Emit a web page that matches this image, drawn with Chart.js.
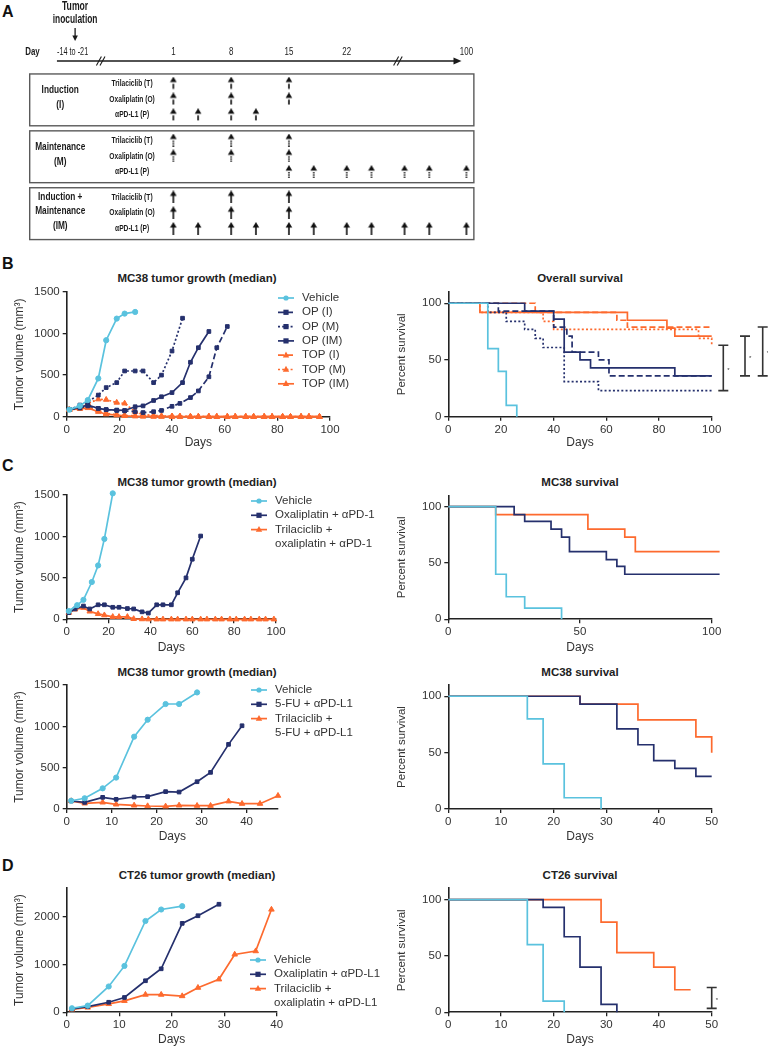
<!DOCTYPE html>
<html>
<head>
<meta charset="utf-8">
<script src="https://cdn.jsdelivr.net/npm/chart.js@4.4.1/dist/chart.umd.min.js"></script>
<style>
html, body { margin: 0; padding: 0; background: #fff; }
#page { position: relative; width: 768px; height: 1047px; overflow: hidden; font-family: 'Liberation Sans', Arial, sans-serif; }
#page canvas { position: absolute; }
.ttl { position: absolute; width: 300px; text-align: center; font-weight: bold; font-size: 11.5px; line-height: 14px; color: #222; }
.lett { position: absolute; font-weight: bold; font-size: 16px; line-height: 16px; color: #111; }
</style>
</head>
<body>
<div id="page">
	<div class="lett" style="left:2px;top:4px">A</div>
	<div class="lett" style="left:2px;top:256px">B</div>
	<div class="lett" style="left:2px;top:458px">C</div>
	<div class="lett" style="left:2px;top:858px">D</div>
	<div class="ttl" style="left:47px;top:271px">MC38 tumor growth (median)</div>
	<div class="ttl" style="left:430px;top:271px">Overall survival</div>
	<div class="ttl" style="left:47px;top:475px">MC38 tumor growth (median)</div>
	<div class="ttl" style="left:430px;top:475px">MC38 survival</div>
	<div class="ttl" style="left:47px;top:665px">MC38 tumor growth (median)</div>
	<div class="ttl" style="left:430px;top:665px">MC38 survival</div>
	<div class="ttl" style="left:47px;top:868px">CT26 tumor growth (median)</div>
	<div class="ttl" style="left:430px;top:868px">CT26 survival</div>
</div>
<script>
// ---------- panel A: dosing schedule ----------
const sched_groups = ['Induction\n(I)', 'Maintenance\n(M)', 'Induction +\nMaintenance\n(IM)']
const sched_drugs = ['Trilaciclib (T)', 'Oxaliplatin (O)', 'αPD-L1 (P)']
// dose days per drug (T, O, P); after the axis break the last slot (day 100) sits at 36.5
const dose_i = [[1, 8, 15], [1, 8, 15], [1, 4, 8, 11]]
const dose_m = [[1, 8, 15], [1, 8, 15], [15, 18, 22, 25, 29, 32, 36.5]]
const dose_im = [[1, 8, 15], [1, 8, 15], [1, 4, 8, 11, 15, 18, 22, 25, 29, 32, 36.5]]
const day_ticks = [1, 8, 15, 22, 36.5]
const day_tick_labels = ['1', '8', '15', '22', '100']

// tick values
const ticks_x100 = [0, 20, 40, 60, 80, 100]
const ticks_x100_50 = [0, 50, 100]
const ticks_x50 = [0, 10, 20, 30, 40, 50]
const ticks_x40 = [0, 10, 20, 30, 40]
const ticks_vol = [0, 500, 1000, 1500]
const ticks_vol_d = [0, 1000, 2000]
const ticks_surv = [0, 50, 100]

// ---------- panel B: MC38 growth ----------
const b_days_veh = [1, 5, 8, 12, 15, 19, 22, 26]
const b_veh = [85, 130, 200, 460, 920, 1180, 1240, 1260]
const b_days_op_i = [1, 5, 8, 12, 15, 19, 22, 26, 29, 33, 36, 40, 43, 47, 50, 54, 57, 61]
const b_op_i = [85, 105, 130, 100, 85, 75, 70, 60, 50, 60, 75, 125, 160, 230, 310, 480, 830, 1085]
const b_days_op_m = [1, 5, 8, 12, 15, 19, 22, 26, 29, 33, 36, 40, 44]
const b_op_m = [85, 140, 180, 260, 350, 410, 550, 550, 550, 410, 500, 790, 1185]
const b_days_op_im = [1, 5, 8, 12, 15, 19, 22, 26, 29, 33, 36, 40, 44, 47, 50, 54]
const b_op_im = [85, 115, 140, 100, 85, 80, 75, 120, 130, 195, 240, 290, 410, 655, 830, 1025]
const b_days_top = [1, 5, 8, 12, 15, 19, 22, 26, 29, 33, 36, 40, 43, 47, 50, 54, 57, 61, 64, 68, 71, 75, 78, 82, 85, 89, 92, 96]
const b_top_i = [85, 100, 115, 75, 40, 25, 15, 10, 6, 4, 3, 2, 2, 1, 1, 1, 0, 0, 0, 0, 0, 0, 0, 0, 0, 0, 0, 0]
const b_top_m = [85, 110, 160, 210, 205, 170, 160, 60, 25, 15, 10, 6, 4, 3, 2, 2, 1, 1, 1, 0, 0, 0, 0, 0, 0, 0, 0, 0]
const b_top_im = [85, 95, 105, 60, 30, 18, 10, 5, 3, 2, 1, 1, 0, 0, 0, 0, 0, 0, 0, 0, 0, 0, 0, 0, 0, 0, 0, 0]

// panel B: overall survival (step times, percent)
const bs_t_veh = [0, 15, 19, 22, 26]
const bs_veh = [100, 60, 40, 10, 0]
const bs_t_op_i = [0, 19, 40, 45, 47, 57, 61, 100]
const bs_op_i = [100, 93, 79, 71, 57, 50, 36, 36]
const bs_t_op_m = [0, 15, 22, 29, 33, 36, 44, 57, 100]
const bs_op_m = [100, 92, 84, 77, 69, 61, 31, 23, 23]
const bs_t_op_im = [0, 29, 40, 44, 50, 54, 86, 100]
const bs_op_im = [100, 93, 86, 57, 50, 43, 36, 36]
const bs_t_top_i = [0, 33, 64, 68, 100]
const bs_top_i = [100, 92, 85, 79, 79]
const bs_t_top_m = [0, 12, 36, 40, 95, 100]
const bs_top_m = [100, 92, 84, 77, 69, 62]
const bs_t_top_im = [0, 12, 68, 83, 86, 100]
const bs_top_im = [100, 92, 85, 78, 71, 71]
const b_sig = [[23, 63], [36, 71], [36, 79]]

// ---------- panel C (top): oxaliplatin + aPD-1 ----------
const c1_days_veh = [1, 5, 8, 12, 15, 18, 22]
const c1_veh = [100, 170, 235, 450, 650, 970, 1520]
const c1_days_op = [1, 4, 8, 11, 15, 18, 22, 25, 29, 32, 36, 39, 43, 46, 50, 53, 57, 60, 64]
const c1_op = [80, 125, 160, 125, 175, 175, 145, 145, 130, 125, 90, 75, 175, 175, 175, 320, 500, 725, 1005]
const c1_days_top = [1, 4, 8, 11, 15, 18, 22, 25, 29, 32, 36, 39, 43, 46, 50, 53, 57, 60, 64, 67, 71, 74, 78, 81, 85, 88, 92, 95, 99]
const c1_top = [80, 120, 140, 95, 65, 50, 30, 30, 30, 5, 2, 1, 0, 0, 0, 0, 0, 0, 0, 0, 0, 0, 0, 0, 0, 0, 0, 0, 0]
const c1s_t_veh = [0, 18, 22, 29, 43]
const c1s_veh = [100, 40, 20, 10, 0]
const c1s_t_op = [0, 25, 29, 39, 43, 46, 60, 64, 67, 103]
const c1s_op = [100, 93, 87, 80, 73, 60, 53, 47, 40, 40]
const c1s_t_top = [0, 18, 53, 67, 71, 103]
const c1s_top = [100, 93, 80, 73, 60, 60]

// ---------- panel C (bottom): 5-FU + aPD-L1 ----------
const c2_days_veh = [1, 4, 8, 11, 15, 18, 22, 25, 29]
const c2_veh = [100, 130, 250, 380, 875, 1080, 1270, 1270, 1410]
const c2_days_fu = [1, 4, 8, 11, 15, 18, 22, 25, 29, 32, 36, 39]
const c2_fu = [97, 80, 141, 117, 145, 149, 210, 205, 330, 443, 782, 1007]
const c2_days_top = [1, 4, 8, 11, 15, 18, 22, 25, 29, 32, 36, 39, 43, 47]
const c2_top = [97, 68, 80, 56, 44, 36, 32, 44, 40, 40, 93, 64, 64, 161]
const c2s_t_veh = [0, 15, 18, 22, 29]
const c2s_veh = [100, 80, 40, 10, 0]
const c2s_t_fu = [0, 25, 32, 36, 39, 43, 47, 50]
const c2s_fu = [100, 93, 71, 57, 43, 36, 29, 29]
const c2s_t_top = [0, 25, 36, 47, 50]
const c2s_top = [100, 93, 79, 64, 50]

// ---------- panel D: CT26 ----------
const d_days_veh = [1, 4, 8, 11, 15, 18, 22]
const d_veh = [85, 140, 540, 970, 1910, 2150, 2220]
const d_days_op = [1, 4, 8, 11, 15, 18, 22, 25, 29]
const d_op = [70, 120, 210, 310, 660, 910, 1860, 2020, 2260]
const d_days_top = [1, 4, 8, 11, 15, 18, 22, 25, 29, 32, 36, 39]
const d_top = [60, 100, 175, 240, 370, 370, 340, 515, 690, 1210, 1280, 2150]
const ds_t_veh = [0, 15, 18, 22]
const ds_veh = [100, 60, 10, 0]
const ds_t_op = [0, 18, 22, 25, 29, 32]
const ds_op = [100, 93, 67, 40, 7, 0]
const ds_t_top = [0, 29, 32, 39, 43, 46]
const ds_top = [100, 80, 53, 40, 20, 20]
const d_sig = [[3.5, 22]]

const FONT = "'Liberation Sans', Arial, sans-serif"
const INK = '#222'
const TXT = '#333'
const CYAN = '#5ac2de'
const NAVY = '#25306d'
const ORANGE = '#fd6a2e'
const DASH = [6, 3]
const DOT = [2, 2.2]

Chart.defaults.font.family = FONT

function add_canvas (left, top, width, height) {
	const c = document.createElement('canvas')
	c.width = width
	c.height = height
	c.style.left = left + 'px'
	c.style.top = top + 'px'
	c.style.width = width + 'px'
	c.style.height = height + 'px'
	document.getElementById('page').appendChild(c)
	return c
}

function pts (xs, ys) {
	return xs.map((x, i) => ({ x: x, y: ys[i] }))
}

function growth (label, days, vals, color, style, dash) {
	return {
		label: label,
		data: pts(days, vals),
		borderColor: color,
		backgroundColor: color,
		pointBackgroundColor: color,
		pointBorderColor: color,
		pointStyle: style,
		pointRadius: style === 'triangle' ? 3.2 : 2.6,
		pointBorderWidth: 1,
		borderWidth: 1.7,
		borderDash: dash || [],
		tension: 0,
		clip: false,
	}
}

function surv (days, vals, color, dash) {
	return {
		data: pts(days, vals),
		borderColor: color,
		borderWidth: 1.7,
		borderDash: dash || [],
		stepped: true,
		pointRadius: 0,
		clip: false,
	}
}

function draw_marker (ctx, style, r, x, y) {
	ctx.beginPath()
	if (style === 'circle') {
		ctx.arc(x, y, r, 0, Math.PI * 2)
	} else if (style === 'rect') {
		ctx.rect(x - r, y - r, r * 2, r * 2)
	} else {
		ctx.moveTo(x, y - r * 1.15)
		ctx.lineTo(x + r, y + r * 0.7)
		ctx.lineTo(x - r, y + r * 0.7)
		ctx.closePath()
	}
	ctx.fill()
}

function side_legend (opts) {
	return {
		id: 'side_legend',
		afterDraw (chart) {
			const ctx = chart.ctx
			ctx.save()
			ctx.font = `11.5px ${FONT}`
			ctx.textBaseline = 'middle'
			ctx.textAlign = 'left'
			let y = opts.y
			for (const ds of chart.data.datasets) {
				const x0 = opts.x
				const x1 = opts.x + 16
				ctx.strokeStyle = ds.borderColor
				ctx.lineWidth = ds.borderWidth
				ctx.setLineDash(ds.borderDash)
				ctx.beginPath()
				ctx.moveTo(x0, y)
				ctx.lineTo(x1, y)
				ctx.stroke()
				ctx.setLineDash([])
				ctx.fillStyle = ds.borderColor
				draw_marker(ctx, ds.pointStyle, ds.pointRadius, (x0 + x1) / 2, y)
				ctx.fillStyle = TXT
				const lines = ds.label.split('\n')
				lines.forEach((t, i) => ctx.fillText(t, x1 + 8, y + i * 14.3))
				y += lines.length * 14.3
			}
			ctx.restore()
		},
	}
}

function sig_brackets (pairs, offsets) {
	return {
		id: 'sig_brackets',
		afterDraw (chart) {
			const ctx = chart.ctx
			const ys = chart.scales.y
			const right = chart.chartArea.right
			ctx.save()
			ctx.strokeStyle = '#333'
			ctx.fillStyle = '#333'
			ctx.lineWidth = 1.6
			ctx.font = `6px ${FONT}`
			ctx.textBaseline = 'middle'
			pairs.forEach(function ([lo, hi], i) {
				const x = right + offsets[i]
				const y0 = ys.getPixelForValue(lo)
				const y1 = ys.getPixelForValue(hi)
				ctx.beginPath()
				ctx.moveTo(x, y0)
				ctx.lineTo(x, y1)
				ctx.moveTo(x - 5, y0)
				ctx.lineTo(x + 5, y0)
				ctx.moveTo(x - 5, y1)
				ctx.lineTo(x + 5, y1)
				ctx.stroke()
				ctx.fillText('*', x + 4, (y0 + y1) / 2 + 2)
			})
			ctx.restore()
		},
	}
}

// box = canvas rect on the page, area = plot area on the page
function make_plot (box, area, spec) {
	const canvas = add_canvas(box.l, box.t, box.r - box.l, box.b - box.t)
	const tick_font = { family: FONT, size: 11.5 }
	const axis_common = {
		type: 'linear',
		grid: { drawOnChartArea: false, drawTicks: true, tickLength: 4, color: INK, lineWidth: 1.3 },
		border: { color: INK, width: 1.6 },
	}
	return new Chart(canvas, {
		type: 'line',
		data: { datasets: spec.datasets },
		plugins: spec.plugins || [],
		options: {
			responsive: false,
			animation: false,
			events: [],
			layout: { padding: { left: 0, top: area.t - box.t, right: box.r - area.r, bottom: 0 } },
			plugins: { legend: { display: false }, tooltip: { enabled: false } },
			scales: {
				x: Object.assign({}, axis_common, {
					min: spec.x_min,
					max: spec.x_max,
					afterFit: s => { s.height = (box.b - box.t) - (area.b - box.t) },
					afterBuildTicks: s => { s.ticks = spec.x_ticks.map(v => ({ value: v })) },
					ticks: { color: TXT, font: tick_font, padding: 2, maxRotation: 0, callback: v => String(v) },
					title: { display: true, text: 'Days', color: TXT, font: { family: FONT, size: 12 }, padding: { top: 0, bottom: 0 } },
				}),
				y: Object.assign({}, axis_common, {
					min: 0,
					max: spec.y_max,
					afterFit: s => { s.width = area.l - box.l },
					afterBuildTicks: s => { s.ticks = spec.y_ticks.map(v => ({ value: v })) },
					ticks: { color: TXT, font: tick_font, padding: 3, callback: v => String(v) },
					title: { display: true, text: spec.y_title, color: TXT, font: { family: FONT, size: spec.y_title_size }, padding: { top: spec.y_title_pad, bottom: 0 } },
				}),
			},
		},
	})
}

function growth_spec (extra) {
	return Object.assign({ y_title: 'Tumor volume (mm³)', y_title_size: 12, y_title_pad: 12.5 }, extra)
}
function surv_spec (extra) {
	return Object.assign({ y_title: 'Percent survival', y_title_size: 11.5, y_title_pad: 4.8, y_max: 110, y_ticks: ticks_surv }, extra)
}

// ---------- panel A drawing ----------
function narrow_text (ctx, text, x, y, font, squeeze) {
	ctx.save()
	ctx.translate(x, y)
	ctx.scale(squeeze, 1)
	ctx.font = font
	ctx.textAlign = 'center'
	ctx.textBaseline = 'middle'
	ctx.fillText(text, 0, 0)
	ctx.restore()
}

function make_arrow (kind) {
	const c = document.createElement('canvas')
	c.width = 8
	c.height = 13
	const ctx = c.getContext('2d')
	ctx.fillStyle = '#111'
	ctx.beginPath()
	ctx.moveTo(4, 0)
	ctx.lineTo(0.7, 5.5)
	ctx.lineTo(7.3, 5.5)
	ctx.closePath()
	ctx.fill()
	if (kind === 'solid') {
		ctx.fillRect(3.2, 4.5, 1.6, 8.5)
	} else if (kind === 'dash') {
		ctx.fillRect(3.2, 7.2, 1.6, 5)
	} else {
		ctx.fillRect(3.2, 7, 1.6, 1.4)
		ctx.fillRect(3.2, 9.3, 1.6, 1.4)
		ctx.fillRect(3.2, 11.6, 1.6, 1.4)
	}
	return c
}

const BOX_STEP = 3.6
const schematic = {
	id: 'schematic',
	beforeDatasetsDraw (chart) {
		const ctx = chart.ctx
		const sx = v => chart.scales.x.getPixelForValue(v)
		const sy = v => chart.scales.y.getPixelForValue(v)
		ctx.save()
		ctx.fillStyle = '#1a1a1a'
		ctx.strokeStyle = '#1a1a1a'
		// tumor inoculation note
		const inoc = sx(-10.9)
		narrow_text(ctx, 'Tumor', inoc, 7, `bold 12px ${FONT}`, 0.72)
		narrow_text(ctx, 'inoculation', inoc, 20, `bold 12px ${FONT}`, 0.7)
		ctx.lineWidth = 1.3
		ctx.beginPath()
		ctx.moveTo(inoc, 28)
		ctx.lineTo(inoc, 37)
		ctx.stroke()
		ctx.beginPath()
		ctx.moveTo(inoc - 2.8, 35.5)
		ctx.lineTo(inoc + 2.8, 35.5)
		ctx.lineTo(inoc, 41)
		ctx.closePath()
		ctx.fill()
		// day axis
		narrow_text(ctx, 'Day', 32.5, 51.5, `bold 11px ${FONT}`, 0.72)
		narrow_text(ctx, '-14 to -21', sx(-11.2), 51.5, `11px ${FONT}`, 0.66)
		day_ticks.forEach((d, i) => narrow_text(ctx, day_tick_labels[i], sx(d), 51.5, `11px ${FONT}`, 0.72))
		const ax_y = 61
		ctx.lineWidth = 1.5
		ctx.beginPath()
		ctx.moveTo(sx(-13.1), ax_y)
		ctx.lineTo(sx(35.2), ax_y)
		ctx.stroke()
		ctx.beginPath()
		ctx.moveTo(sx(35.9), ax_y)
		ctx.lineTo(sx(35.9) - 8, ax_y - 3.5)
		ctx.lineTo(sx(35.9) - 8, ax_y + 3.5)
		ctx.closePath()
		ctx.fill()
		for (const b of [-7.8, 28.2]) {
			const bx = sx(b)
			ctx.lineWidth = 1.1
			for (const off of [-1.8, 1.8]) {
				ctx.beginPath()
				ctx.moveTo(bx + off - 2.5, ax_y + 4.5)
				ctx.lineTo(bx + off + 2.5, ax_y - 4.5)
				ctx.stroke()
			}
		}
		// boxes and their labels
		sched_groups.forEach(function (g, b) {
			const base = b * BOX_STEP
			ctx.strokeStyle = '#5a5a5a'
			ctx.lineWidth = 1.4
			ctx.strokeRect(sx(-16.4), sy(base - 0.58), sx(37.4) - sx(-16.4), sy(base + 2.7) - sy(base - 0.58))
			const lines = g.split('\n')
			const mid = sy(base + 0.9)
			lines.forEach((t, i) => narrow_text(ctx, t, sx(-12.7), mid + (i - (lines.length - 1) / 2) * 14.5, `bold 11.5px ${FONT}`, 0.72))
			sched_drugs.forEach((t, r) => narrow_text(ctx, t, sx(-4.0), sy(base + r), `bold 9.8px ${FONT}`, 0.68))
		})
		ctx.restore()
	},
}

const arrow_imgs = [make_arrow('dash'), make_arrow('dot'), make_arrow('solid')]
const sched_sets = []
;[dose_i, dose_m, dose_im].forEach(function (box, b) {
	box.forEach(function (days, r) {
		sched_sets.push({
			data: days.map(d => ({ x: d, y: b * BOX_STEP + r })),
			pointStyle: arrow_imgs[b],
			pointRadius: 5,
			showLine: false,
		})
	})
})

new Chart(add_canvas(0, 0, 768, 250), {
	type: 'scatter',
	data: { datasets: sched_sets },
	plugins: [schematic],
	options: {
		responsive: false,
		animation: false,
		events: [],
		layout: { padding: 0 },
		plugins: { legend: { display: false }, tooltip: { enabled: false } },
		scales: {
			x: { type: 'linear', display: false, min: -19.27, max: 72.3 },
			y: { type: 'linear', display: false, reverse: true, min: -4.88, max: 10.18 },
		},
	},
})

// ---------- panel B ----------
make_plot({ l: 0, t: 282, r: 390, b: 450 }, { l: 66.7, t: 292, r: 330, b: 416.7 }, growth_spec({
	x_min: 0, x_max: 100, x_ticks: ticks_x100, y_max: 1500, y_ticks: ticks_vol,
	datasets: [
		growth('Vehicle', b_days_veh, b_veh, CYAN, 'circle'),
		growth('OP (I)', b_days_op_i, b_op_i, NAVY, 'rect', DASH),
		growth('OP (M)', b_days_op_m, b_op_m, NAVY, 'rect', DOT),
		growth('OP (IM)', b_days_op_im, b_op_im, NAVY, 'rect'),
		growth('TOP (I)', b_days_top, b_top_i, ORANGE, 'triangle', DASH),
		growth('TOP (M)', b_days_top, b_top_m, ORANGE, 'triangle', DOT),
		growth('TOP (IM)', b_days_top, b_top_im, ORANGE, 'triangle'),
	],
	plugins: [side_legend({ x: 278, y: 16 })],
}))

make_plot({ l: 390, t: 282, r: 768, b: 450 }, { l: 448.3, t: 291.7, r: 711.7, b: 416.7 }, surv_spec({
	x_min: 0, x_max: 100, x_ticks: ticks_x100,
	datasets: [
		surv(bs_t_veh, bs_veh, CYAN),
		surv(bs_t_op_im, bs_op_im, NAVY),
		surv(bs_t_op_i, bs_op_i, NAVY, DASH),
		surv(bs_t_op_m, bs_op_m, NAVY, DOT),
		surv(bs_t_top_im, bs_top_im, ORANGE),
		surv(bs_t_top_i, bs_top_i, ORANGE, DASH),
		surv(bs_t_top_m, bs_top_m, ORANGE, DOT),
	],
	plugins: [sig_brackets(b_sig, [11.6, 33.3, 51])],
}))

// ---------- panel C ----------
make_plot({ l: 0, t: 485, r: 390, b: 655 }, { l: 66.7, t: 495, r: 276, b: 619.3 }, growth_spec({
	x_min: 0, x_max: 100, x_ticks: ticks_x100, y_max: 1500, y_ticks: ticks_vol,
	datasets: [
		growth('Vehicle', c1_days_veh, c1_veh, CYAN, 'circle'),
		growth('Oxaliplatin + αPD-1', c1_days_op, c1_op, NAVY, 'rect'),
		growth('Trilaciclib +\noxaliplatin + αPD-1', c1_days_top, c1_top, ORANGE, 'triangle'),
	],
	plugins: [side_legend({ x: 251, y: 16 })],
}))

make_plot({ l: 390, t: 485, r: 768, b: 655 }, { l: 448.3, t: 495.4, r: 711.7, b: 619.3 }, surv_spec({
	x_min: 0, x_max: 100, x_ticks: ticks_x100_50,
	datasets: [
		surv(c1s_t_veh, c1s_veh, CYAN),
		surv(c1s_t_op, c1s_op, NAVY),
		surv(c1s_t_top, c1s_top, ORANGE),
	],
}))

make_plot({ l: 0, t: 675, r: 390, b: 844 }, { l: 66.7, t: 685, r: 278, b: 809 }, growth_spec({
	x_min: 0, x_max: 47, x_ticks: ticks_x40, y_max: 1500, y_ticks: ticks_vol,
	datasets: [
		growth('Vehicle', c2_days_veh, c2_veh, CYAN, 'circle'),
		growth('5-FU + αPD-L1', c2_days_fu, c2_fu, NAVY, 'rect'),
		growth('Trilaciclib +\n5-FU + αPD-L1', c2_days_top, c2_top, ORANGE, 'triangle'),
	],
	plugins: [side_legend({ x: 251, y: 15 })],
}))

make_plot({ l: 390, t: 675, r: 768, b: 844 }, { l: 448.3, t: 685, r: 711.7, b: 809 }, surv_spec({
	x_min: 0, x_max: 50, x_ticks: ticks_x50,
	datasets: [
		surv(c2s_t_veh, c2s_veh, CYAN),
		surv(c2s_t_fu, c2s_fu, NAVY),
		surv(c2s_t_top, c2s_top, ORANGE),
	],
}))

// ---------- panel D ----------
make_plot({ l: 0, t: 878, r: 390, b: 1047 }, { l: 66.7, t: 888, r: 276.7, b: 1012.3 }, growth_spec({
	x_min: 0, x_max: 40, x_ticks: ticks_x40, y_max: 2600, y_ticks: ticks_vol_d,
	datasets: [
		growth('Vehicle', d_days_veh, d_veh, CYAN, 'circle'),
		growth('Oxaliplatin + αPD-L1', d_days_op, d_op, NAVY, 'rect'),
		growth('Trilaciclib +\noxaliplatin + αPD-L1', d_days_top, d_top, ORANGE, 'triangle'),
	],
	plugins: [side_legend({ x: 250, y: 82 })],
}))

make_plot({ l: 390, t: 878, r: 768, b: 1047 }, { l: 448.3, t: 888.3, r: 711.7, b: 1012.3 }, surv_spec({
	x_min: 0, x_max: 50, x_ticks: ticks_x50,
	datasets: [
		surv(ds_t_veh, ds_veh, CYAN),
		surv(ds_t_op, ds_op, NAVY),
		surv(ds_t_top, ds_top, ORANGE),
	],
	plugins: [sig_brackets(d_sig, [0])],
}))
</script>
</body>
</html>
